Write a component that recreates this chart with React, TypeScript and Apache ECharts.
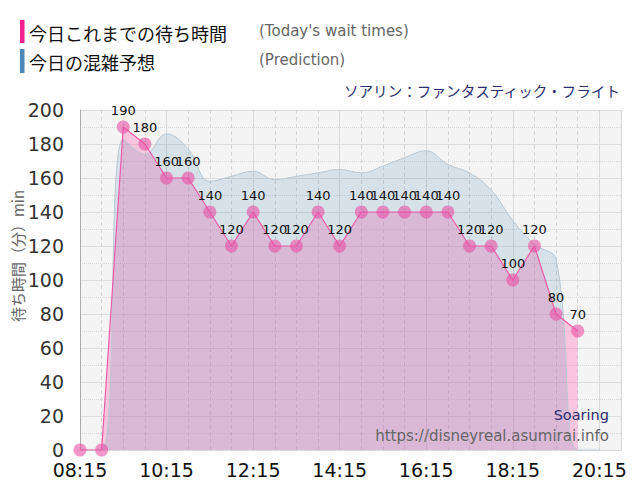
import React, { useEffect, useRef } from "react";
import * as echarts from "echarts";

const waitTimes = ["08:15","08:45","09:15","09:45","10:15","10:45","11:15","11:45","12:15","12:45","13:15","13:45","14:15","14:45","15:15","15:45","16:15","16:45","17:15","17:45","18:15","18:45","19:15","19:45"];
const waitValues = [0,0,190,180,160,160,140,120,140,120,120,140,120,140,140,140,140,140,120,120,100,120,80,70];

const predTimes = ["08:15","08:45","09:15","09:45","10:15","10:45","11:15","11:45","12:15","12:45","13:15","13:45","14:15","14:45","15:15","15:45","16:15","16:45","17:15","17:45","18:15","18:45","19:15","19:45","20:15"];
const predValues = [0,0,183,174,186,177,158,161,164,159,161,163,165,163,167,172,176,168,163,153,135,121,112,0,0];

const startTime = "08:15";
const endTime = "20:45";

const toMin = (t: string) => {
  const [h, m] = t.split(":").map(Number);
  return h * 60 + m;
};
const base = toMin(startTime);
const fmt = (v: number) => {
  const t = v + base;
  const h = Math.floor(t / 60);
  const m = t % 60;
  return String(h).padStart(2, "0") + ":" + String(m).padStart(2, "0");
};

const NUM_FONT = "DejaVu Sans";
const JP_FONT = "Noto Sans CJK JP";

export default function App() {
  const ref = useRef<HTMLDivElement>(null);
  useEffect(() => {
    if (!ref.current) return;
    const chart = echarts.init(ref.current, null, { renderer: "svg" });
    const wait = waitTimes.map((t, i) => [toMin(t) - base, waitValues[i]]);
    const pred = predTimes.map((t, i) => [toMin(t) - base, predValues[i]]);
    const xMax = toMin(endTime) - base;
    chart.setOption({
      animation: false,
      backgroundColor: "#ffffff",
      grid: {
        left: 80,
        right: 19,
        top: 110,
        bottom: 50,
        show: true,
        backgroundColor: "#f4f4f4",
        borderWidth: 0,
      },
      xAxis: [
        {
          type: "value",
          min: 0,
          max: xMax,
          interval: 120,
          axisLine: { show: true, lineStyle: { color: "#d8d8d8" } },
          axisTick: { show: false },
          axisLabel: {
            formatter: (v: number) => fmt(v),
            showMaxLabel: false,
            color: "#111",
            fontSize: 19,
            fontFamily: NUM_FONT,
            margin: 10,
          },
          splitLine: { show: true, lineStyle: { color: "#dcdcdc", width: 1 } },
        },
        {
          type: "value",
          min: 0,
          max: xMax,
          interval: 30,
          show: true,
          axisLine: { show: false },
          axisTick: { show: false },
          axisLabel: { show: false },
          splitLine: { show: true, lineStyle: { color: "#d6d6d6", type: [4, 3], width: 1 } },
        },
      ],
      yAxis: {
        type: "value",
        min: 0,
        max: 200,
        interval: 20,
        axisLine: { show: true, lineStyle: { color: "#aaaaaa" } },
        axisTick: { show: false },
        axisLabel: { color: "#333", fontSize: 19, fontFamily: NUM_FONT, margin: 16 },
        splitLine: { show: true, lineStyle: { color: "#dddddd", width: 1 } },
        minorTick: { show: false, splitNumber: 2 },
        minorSplitLine: { show: true, lineStyle: { color: "#d8d8d8", type: "dotted", width: 1 } },
      },
      series: [
        {
          name: "waitArea",
          type: "line",
          data: wait,
          showSymbol: false,
          symbol: "none",
          lineStyle: { width: 0 },
          areaStyle: { color: "rgba(255,105,180,0.35)", opacity: 1 },
          z: 1,
        },
        {
          name: "prediction",
          type: "line",
          data: pred,
          smooth: 0.4,
          showSymbol: false,
          symbol: "none",
          lineStyle: { width: 1, color: "#b9c8d2" },
          areaStyle: { color: "rgba(70,130,180,0.17)", opacity: 1 },
          z: 2,
        },
        {
          name: "wait",
          type: "line",
          data: wait,
          symbol: "circle",
          symbolSize: 13,
          lineStyle: { width: 1.2, color: "#ec5aa8" },
          itemStyle: { color: "rgba(232,80,165,0.6)", borderWidth: 0 },
          label: {
            show: true,
            position: "top",
            distance: 4,
            color: "#111",
            fontSize: 13,
            fontFamily: NUM_FONT,
            formatter: (p: any) => (p.value[1] === 0 ? "" : String(p.value[1])),
          },
          z: 3,
        },
      ],
      graphic: [
        { type: "rect", shape: { x: 20, y: 20, width: 4.5, height: 23 }, style: { fill: "#f0208c" } },
        { type: "text", x: 29, y: 32.5, style: { text: "今日これまでの待ち時間", font: `18px "${JP_FONT}"`, fill: "#111", verticalAlign: "middle" } },
        { type: "text", x: 259, y: 31, style: { text: "(Today's wait times)", font: `15px "${NUM_FONT}"`, fill: "#666", verticalAlign: "middle" } },
        { type: "rect", shape: { x: 20, y: 49, width: 4.5, height: 24 }, style: { fill: "#4a86b8" } },
        { type: "text", x: 29, y: 61.5, style: { text: "今日の混雑予想", font: `18px "${JP_FONT}"`, fill: "#111", verticalAlign: "middle" } },
        { type: "text", x: 259, y: 60, style: { text: "(Prediction)", font: `15px "${NUM_FONT}"`, fill: "#666", verticalAlign: "middle" } },
        { type: "text", x: 620, y: 90, style: { text: "ソアリン：ファンタスティック・フライト", font: `14.6px "${JP_FONT}"`, fill: "#2e2e70", align: "right", verticalAlign: "middle" } },
        { type: "text", x: 17, y: 256, rotation: Math.PI / 2, style: { text: "待ち時間（分）min", font: `15px "${JP_FONT}"`, fill: "#666", align: "center", verticalAlign: "middle" } },
        { type: "text", x: 609, y: 415, z: 10, style: { text: "Soaring", font: `14.5px "${NUM_FONT}"`, fill: "#2e2e70", align: "right", verticalAlign: "middle" } },
        { type: "text", x: 609, y: 436, z: 10, style: { text: "https://disneyreal.asumirai.info", font: `15px "${NUM_FONT}"`, fill: "#666", align: "right", verticalAlign: "middle" } },
      ],
    });
    return () => chart.dispose();
  }, []);
  return <div ref={ref} style={{ width: 640, height: 500, position: "absolute", left: 0, top: 0 }} />;
}
